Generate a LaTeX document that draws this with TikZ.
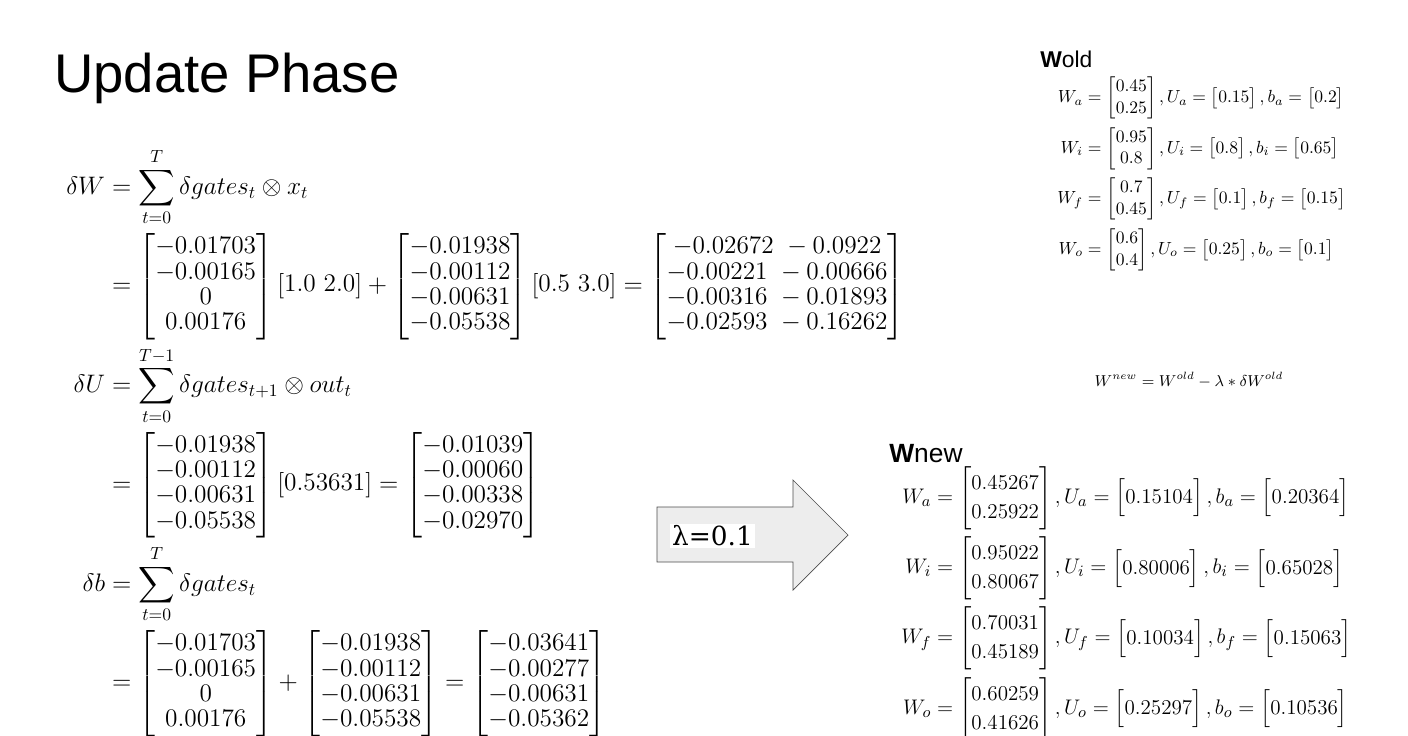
\documentclass[tikz,border=0pt]{standalone}
\usepackage{amsmath}
\usepackage{fontspec}
\setsansfont{Liberation Sans}
\newfontfamily\lamfont{DejaVu Serif}

\begin{document}
\begin{tikzpicture}[x=0.02cm,y=-0.02cm,
		eqn/.style={inner sep=0pt,anchor=north west},
		lbl/.style={inner sep=0pt,anchor=south west,font=\sffamily}]
		\useasboundingbox (0,0) rectangle (1408,735);
		\node[lbl,font=\sffamily\fontsize{31}{36}\selectfont] (title) at (54,104) {Update Phase};
		% left block of gradients
		\node[eqn] (grads) at (66,148) {\fontsize{13.8}{15}\selectfont\renewcommand{\arraystretch}{0.96}$\begin{aligned}
			\delta W &= \sum_{t=0}^{T} \delta gates_t \otimes x_t\\
			&= \begin{bmatrix}-0.01703\\-0.00165\\0\\0.00176\end{bmatrix}\begin{bmatrix}1.0\ 2.0\end{bmatrix}
			+\begin{bmatrix}-0.01938\\-0.00112\\-0.00631\\-0.05538\end{bmatrix}\begin{bmatrix}0.5\ 3.0\end{bmatrix}
			=\begin{bmatrix}-0.02672\ -0.0922\\-0.00221\ -0.00666\\-0.00316\ -0.01893\\-0.02593\ -0.16262\end{bmatrix}\\
			\delta U &= \sum_{t=0}^{T-1} \delta gates_{t+1} \otimes out_t\\
			&= \begin{bmatrix}-0.01938\\-0.00112\\-0.00631\\-0.05538\end{bmatrix}\begin{bmatrix}0.53631\end{bmatrix}
			=\begin{bmatrix}-0.01039\\-0.00060\\-0.00338\\-0.02970\end{bmatrix}\\
			\delta b &= \sum_{t=0}^{T} \delta gates_t\\
			&= \begin{bmatrix}-0.01703\\-0.00165\\0\\0.00176\end{bmatrix}
			+\begin{bmatrix}-0.01938\\-0.00112\\-0.00631\\-0.05538\end{bmatrix}
			=\begin{bmatrix}-0.03641\\-0.00277\\-0.00631\\-0.05362\end{bmatrix}
		\end{aligned}$};
		% old weights
		\node[lbl,font=\sffamily\fontsize{13}{15}\selectfont] (oldlbl) at (1040,68) {\textbf{W}old};
		\node[eqn] (old) at (1057,76) {\fontsize{9.9}{12.4}\selectfont$\begin{aligned}
			W_a &= \begin{bmatrix}0.45\\0.25\end{bmatrix},U_a=\begin{bmatrix}0.15\end{bmatrix},b_a=\begin{bmatrix}0.2\end{bmatrix}\\
			W_i &= \begin{bmatrix}0.95\\0.8\end{bmatrix},U_i=\begin{bmatrix}0.8\end{bmatrix},b_i=\begin{bmatrix}0.65\end{bmatrix}\\
			W_f &= \begin{bmatrix}0.7\\0.45\end{bmatrix},U_f=\begin{bmatrix}0.1\end{bmatrix},b_f=\begin{bmatrix}0.15\end{bmatrix}\\
			W_o &= \begin{bmatrix}0.6\\0.4\end{bmatrix},U_o=\begin{bmatrix}0.25\end{bmatrix},b_o=\begin{bmatrix}0.1\end{bmatrix}
		\end{aligned}$};
		% update rule
		\node[inner sep=0pt] (rule) at (1189,380) {\fontsize{9}{11}\selectfont$W^{new}=W^{old}-\lambda*\delta W^{old}$};
		% arrow
		\draw[black!70,fill=black!7] (657,507) -- (793,507) -- (793,480) -- (848,535)
			-- (793,590) -- (793,562) -- (657,562) -- cycle;
		\node[fill=white,inner sep=1pt,anchor=west] (lambda) at (670,536)
			{\lamfont\fontsize{15}{18}\selectfont λ=0.1};
		% new weights
		\node[lbl,font=\sffamily\fontsize{15}{18}\selectfont] (newlbl) at (889,463) {\textbf{W}new};
		\node[eqn] (new) at (901,466) {\fontsize{12.8}{16.6}\selectfont$\begin{aligned}
			W_a &= \begin{bmatrix}0.45267\\0.25922\end{bmatrix},U_a=\begin{bmatrix}0.15104\end{bmatrix},b_a=\begin{bmatrix}0.20364\end{bmatrix}\\
			W_i &= \begin{bmatrix}0.95022\\0.80067\end{bmatrix},U_i=\begin{bmatrix}0.80006\end{bmatrix},b_i=\begin{bmatrix}0.65028\end{bmatrix}\\
			W_f &= \begin{bmatrix}0.70031\\0.45189\end{bmatrix},U_f=\begin{bmatrix}0.10034\end{bmatrix},b_f=\begin{bmatrix}0.15063\end{bmatrix}\\
			W_o &= \begin{bmatrix}0.60259\\0.41626\end{bmatrix},U_o=\begin{bmatrix}0.25297\end{bmatrix},b_o=\begin{bmatrix}0.10536\end{bmatrix}
		\end{aligned}$};
	\end{tikzpicture}
\end{document}
